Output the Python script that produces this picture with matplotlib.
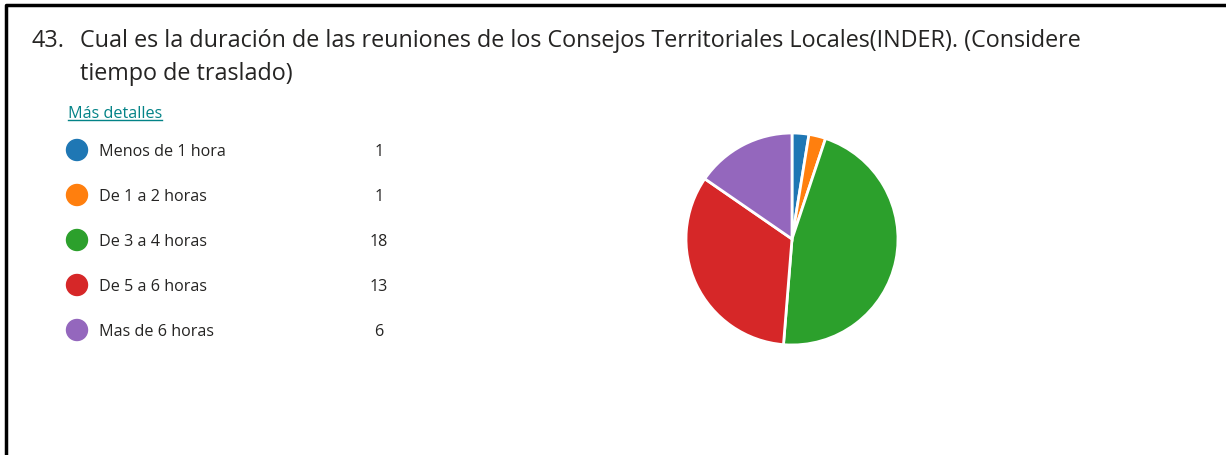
import matplotlib
matplotlib.use("Agg")
import matplotlib.pyplot as plt
from matplotlib.patches import Circle

categories = ["Menos de 1 hora", "De 1 a 2 horas", "De 3 a 4 horas", "De 5 a 6 horas", "Mas de 6 horas"]
counts = [1, 1, 18, 13, 6]
colors = ["#1f77b4", "#ff7f0e", "#2ca02c", "#d62728", "#9467bd"]
title_num = "43."
title_line1 = "Cual es la duración de las reuniones de los Consejos Territoriales Locales(INDER). (Considere"
title_line2 = "tiempo de traslado)"
link_text = "Más detalles"

W, H = 1226, 456
fig = plt.figure(figsize=(W / 100, H / 100), dpi=100)
fig.patch.set_facecolor("white")

bg = fig.add_axes([0, 0, 1, 1])
bg.set_xlim(0, W)
bg.set_ylim(H, 0)
bg.axis("off")

# border (left and top)
bg.plot([6, 6, W], [H, 6, 6], color="black", lw=2.5, solid_capstyle="butt")

font = "Open Sans"
tc = "#252423"
bg.text(31, 47, title_num, fontsize=16.8, family=font, color=tc, va="baseline", ha="left")
bg.text(80, 47, title_line1, fontsize=16.8, family=font, color=tc, va="baseline", ha="left")
bg.text(80, 80, title_line2, fontsize=16.8, family=font, color=tc, va="baseline", ha="left")

bg.text(68, 118, link_text, fontsize=11.6, family=font, color="#038387", va="baseline", ha="left")
bg.plot([68, 162], [121, 121], color="#038387", lw=1)

row_y0, row_dy = 151, 45
for i, (cat, n, c) in enumerate(zip(categories, counts, colors)):
    y = row_y0 + i * row_dy
    bg.add_patch(Circle((77, y), 10.5, color=c))
    bg.text(99, y + 5.5, cat, fontsize=11.6, family=font, color=tc, va="baseline", ha="left")
    bg.text(379, y + 5.5, str(n), fontsize=11.6, family=font, color=tc, va="baseline", ha="center")

cx, cy, r = 792, 240, 106
ax = fig.add_axes([(cx - r) / W, (H - cy - r) / H, 2 * r / W, 2 * r / H])
ax.pie(counts, colors=colors, startangle=90, counterclock=False,
       wedgeprops=dict(edgecolor="white", linewidth=2))
ax.set_xlim(-1, 1)
ax.set_ylim(-1, 1)
ax.set_aspect("equal")
ax.axis("off")

fig.savefig("out.png", dpi=100, facecolor="white")
